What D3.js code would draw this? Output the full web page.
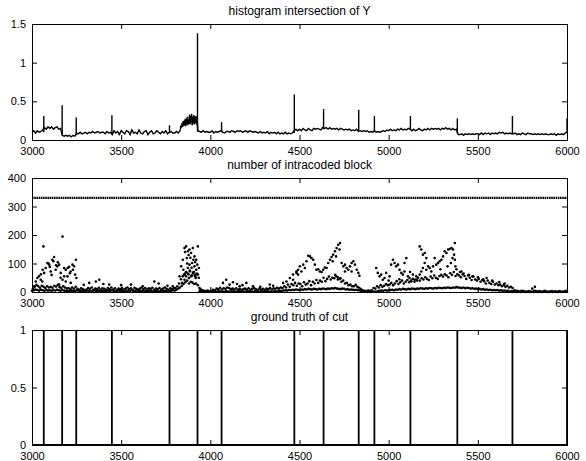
<!DOCTYPE html>
<html lang="en">
<head>
<meta charset="utf-8">
<style>
body { margin: 0; background: #fff; }
text { font-family: "Liberation Sans", Arial, Helvetica, sans-serif; fill: #000; }
</style>
</head>
<body>
<div id="chart"></div>
<script src="https://d3js.org/d3.v7.min.js"></script>
<script>
var width = 586, height = 461;
var frameStart = 3000, frameEnd = 6000, frameStep = 10;

// histogram intersection of Y, one value every 10 frames from 3000
var histY = [
  0.10,0.12,0.09,0.12,0.10,0.11,0.13,0.16,0.14,0.17,
  0.15,0.17,0.14,0.16,0.17,0.14,0.15,0.06,0.05,0.06,
  0.05,0.06,0.04,0.06,0.05,0.09,0.08,0.10,0.08,0.09,
  0.10,0.08,0.10,0.09,0.11,0.09,0.10,0.11,0.09,0.10,
  0.10,0.08,0.11,0.09,0.10,0.07,0.12,0.09,0.11,0.07,
  0.12,0.10,0.08,0.12,0.11,0.07,0.13,0.09,0.10,0.08,
  0.13,0.09,0.08,0.11,0.12,0.07,0.10,0.12,0.08,0.09,
  0.12,0.10,0.08,0.11,0.09,0.12,0.08,0.10,0.11,0.09,
  0.09,0.11,0.09,0.12,0.18,0.21,0.20,0.25,0.23,0.29,
  0.22,0.30,0.25,0.12,0.11,0.10,0.12,0.10,0.11,0.10,
  0.10,0.12,0.09,0.11,0.10,0.11,0.12,0.10,0.09,0.11,
  0.11,0.10,0.12,0.11,0.10,0.12,0.11,0.12,0.10,0.11,
  0.12,0.10,0.12,0.11,0.10,0.11,0.10,0.09,0.11,0.09,
  0.10,0.09,0.11,0.08,0.10,0.09,0.10,0.08,0.10,0.08,
  0.09,0.08,0.10,0.08,0.09,0.08,0.09,0.12,0.14,0.12,
  0.14,0.12,0.15,0.13,0.12,0.15,0.13,0.12,0.15,0.14,
  0.15,0.14,0.13,0.16,0.15,0.16,0.14,0.16,0.14,0.15,
  0.14,0.15,0.13,0.15,0.14,0.13,0.14,0.13,0.14,0.12,
  0.13,0.12,0.14,0.11,0.12,0.11,0.12,0.11,0.12,0.10,
  0.11,0.10,0.12,0.10,0.11,0.10,0.11,0.12,0.11,0.13,
  0.12,0.14,0.12,0.13,0.12,0.14,0.13,0.15,0.13,0.14,
  0.13,0.15,0.14,0.12,0.14,0.12,0.13,0.15,0.13,0.12,
  0.14,0.13,0.15,0.13,0.15,0.14,0.15,0.14,0.15,0.13,
  0.15,0.14,0.16,0.14,0.15,0.13,0.15,0.13,0.14,0.07,
  0.07,0.08,0.06,0.08,0.07,0.08,0.07,0.08,0.07,0.08,
  0.08,0.07,0.09,0.07,0.09,0.08,0.09,0.07,0.09,0.08,
  0.09,0.08,0.10,0.09,0.10,0.08,0.09,0.08,0.09,0.08,
  0.08,0.09,0.07,0.08,0.07,0.09,0.08,0.07,0.09,0.08,
  0.08,0.07,0.08,0.07,0.08,0.07,0.08,0.07,0.08,0.07,
  0.07,0.08,0.07,0.08,0.06,0.08,0.07,0.08,0.07,0.09,
  0.10
];

// noisy stretch before the cut at 3928 [frame, value]
var histBurst = [
  [3832,0.14],[3835,0.19],[3838,0.16],[3841,0.22],[3844,0.17],[3847,0.24],
  [3850,0.18],[3853,0.25],[3856,0.19],[3859,0.27],[3862,0.18],[3865,0.28],
  [3868,0.20],[3871,0.30],[3874,0.19],[3877,0.27],[3880,0.21],[3883,0.33],
  [3886,0.20],[3889,0.31],[3892,0.22],[3895,0.34],[3898,0.19],[3901,0.30],
  [3904,0.21],[3907,0.32],[3910,0.20],[3913,0.29],[3916,0.22],[3919,0.31],
  [3922,0.20],[3925,0.30]
];

// single-frame peaks [frame, base, peak]
var histSpikes = [
  [3066,0.10,0.31],[3169,0.06,0.45],[3248,0.06,0.29],[3448,0.09,0.32],
  [3771,0.09,0.19],[3928,0.11,1.38],[4063,0.10,0.23],[4471,0.09,0.59],
  [4635,0.14,0.40],[4832,0.12,0.39],[4920,0.10,0.31],[5122,0.13,0.31],
  [5385,0.08,0.28],[5694,0.08,0.31],[6000,0.09,0.28]
];

// number of intracoded blocks: dense low band, every 10 frames from 3000
var intraLow = [
  4,6,9,7,5,8,6,4,7,5,  6,4,7,5,8,6,4,7,5,3,  4,3,5,4,3,6,4,3,5,4,
  3,5,4,2,4,6,3,4,5,3,  4,2,5,3,4,6,3,2,4,5,  3,4,2,5,3,4,6,3,4,2,
  4,3,5,2,4,3,5,4,2,3,  4,2,3,5,3,4,2,3,4,6,  5,8,12,16,22,28,34,40,30,36,
  33,28,30,24,3,1,0,1,2,1,  1,2,0,1,2,3,1,2,1,3,  2,1,3,2,1,2,3,1,2,1,
  2,3,1,2,1,3,2,1,2,3,  1,2,3,1,2,1,3,2,4,3,  4,5,6,5,7,6,8,7,9,8,
  7,9,8,10,9,11,10,9,11,10,  9,11,10,12,11,10,12,11,13,12,  14,12,11,10,12,11,9,10,8,9,
  8,7,8,6,5,3,2,1,0,1,  0,1,2,1,3,4,5,4,6,5,  6,7,8,6,9,8,10,9,11,10,
  9,11,10,12,11,10,12,11,13,12,  11,13,12,14,13,12,14,13,15,14,  13,15,14,16,15,14,16,15,17,16,
  15,14,16,13,15,14,12,13,11,12,  10,11,9,10,8,9,7,8,6,7,  6,7,5,6,4,5,3,4,2,3,
  2,1,0,1,0,2,1,0,1,0,  1,0,2,1,0,1,0,2,1,0,  0,1,0,2,1,0,1,0,1,2,
  1
];

// second band, every 10 frames from 3005
var intraMid = [
  12,18,25,20,15,22,18,14,20,16,  18,15,22,19,25,17,14,20,16,12,  14,10,16,12,18,11,8,13,10,7,
  9,14,11,16,8,12,10,15,9,13,  11,8,14,10,16,9,13,7,12,10,  14,9,12,16,10,13,8,15,11,9,
  12,16,10,14,9,13,11,15,8,12,  10,14,9,12,16,11,8,13,10,15,  14,20,30,45,55,62,70,65,75,58,
  68,55,62,50,10,6,4,3,5,2,  4,8,6,12,10,15,9,13,11,16,  14,10,12,9,13,8,11,7,10,12,
  9,13,8,11,14,10,7,12,9,11,  8,12,10,14,9,13,11,15,12,16,  14,20,16,26,18,28,24,32,22,30,
  28,20,34,26,30,38,24,36,30,42,  32,40,36,50,38,46,54,44,50,48,  56,44,46,36,40,30,32,24,26,20,
  20,25,18,15,10,6,4,3,5,4,  6,14,12,20,16,24,18,22,28,24,  26,32,24,30,38,28,34,40,30,36,
  42,34,40,46,36,44,50,40,48,44,  52,46,42,54,48,58,50,46,56,60,  54,62,58,52,66,60,70,56,62,58,
  52,62,56,46,58,50,42,54,44,40,  46,36,42,38,30,40,32,28,36,26,  30,24,26,20,24,18,22,16,18,14,
  6,4,3,2,4,3,2,1,3,2,  12,4,3,2,3,1,2,4,2,1,  2,3,1,2,1,3,2,1,2,4
];

// scattered higher frames [frame, value]
var intraScatter = [
  [3011,20],[3021,37],[3030,49],[3039,55],[3049,43],[3050,62],[3058,37],[3060,78],[3064,160],
  [3068,67],[3077,84],[3086,102],[3092,100],[3096,96],[3100,88],[3105,72],[3110,60],[3114,113],
  [3120,108],[3124,123],[3133,78],[3135,94],[3142,90],[3145,104],[3152,96],[3152,26],[3160,50],
  [3161,67],[3171,195],[3171,43],[3180,84],[3180,55],[3189,78],[3189,37],[3199,55],[3200,84],
  [3208,88],[3212,66],[3217,72],[3217,32],[3227,96],[3230,78],[3236,90],[3242,61],[3246,113],[3249,49],
  [3290,25],[3321,32],[3358,37],[3377,43],[3400,28],[3433,26],[3500,24],[3555,26],[3621,20],
  [3686,37],[3710,30],[3760,22],
  [3789,20],[3827,55],[3836,90],[3842,32],[3846,113],[3849,78],[3852,60],[3855,154],[3855,43],
  [3858,140],[3861,67],[3864,160],[3864,55],[3868,119],[3870,100],[3874,143],[3874,84],[3877,62],
  [3878,130],[3880,49],[3883,149],[3883,96],[3886,73],[3888,120],[3892,137],[3892,55],[3895,85],
  [3896,58],[3898,102],[3902,154],[3902,67],[3905,113],[3908,70],[3911,125],[3911,90],[3912,60],
  [3915,105],[3918,49],[3921,113],[3921,78],[3924,65],[3927,96],[3930,160],[3930,61],[3936,84],[3939,14],
  [4071,32],[4089,43],[4108,26],[4127,34],[4150,28],[4164,20],[4180,24],[4202,32],[4239,20],
  [4280,18],[4333,26],[4352,22],[4408,32],[4427,37],[4446,49],[4464,61],[4483,72],[4492,78],
  [4464,43],[4483,67],[4492,61],[4502,90],[4511,72],[4521,96],[4530,84],[4539,108],[4549,127],
  [4558,125],[4567,119],[4577,113],[4586,96],[4595,78],[4605,80],[4614,72],[4624,70],[4633,78],
  [4642,86],[4652,84],[4661,102],[4671,113],[4680,123],[4686,108],[4689,131],[4699,143],[4700,60],
  [4705,125],[4708,154],[4715,52],[4717,166],[4724,149],[4727,172],[4730,48],[4736,102],[4746,90],
  [4755,96],[4755,72],[4764,84],[4774,78],[4783,90],[4792,102],[4792,72],[4802,108],[4811,96],
  [4821,78],[4830,67],[4836,57],
  [4930,84],[4939,67],[4949,55],[4958,61],[4967,43],[4977,49],[4986,67],[5000,40],[5005,55],
  [5014,96],[5024,113],[5033,102],[5042,90],[5052,96],[5060,45],[5061,78],[5071,67],[5080,61],
  [5089,72],[5089,102],[5099,119],[5108,55],[5117,49],[5120,70],[5127,37],[5136,61],[5146,43],
  [5155,55],[5160,40],[5174,160],[5174,61],[5183,149],[5183,72],[5192,131],[5192,84],[5202,137],
  [5202,102],[5211,119],[5211,78],[5221,90],[5230,84],[5239,72],[5249,90],[5258,119],[5267,96],
  [5277,102],[5286,108],[5290,80],[5296,113],[5305,125],[5314,143],[5324,137],[5330,90],[5333,149],
  [5342,151],[5349,102],[5352,154],[5358,119],[5361,149],[5367,131],[5371,172],[5371,113],[5374,90],
  [5380,80],[5400,70],[5408,72],[5420,65],[5450,60],[5470,55],[5500,52],[5530,45],[5549,49],
  [5580,40],[5620,35],[5650,30],[5820,18]
];
var intraFull = 330;

// ground truth cut frames
var cuts = [3066,3169,3248,3448,3771,3928,4063,4471,4635,4832,4920,5122,5385,5694,6000];

var xTicks = [3000,3500,4000,4500,5000,5500,6000];
var yTicksHist = [0,0.5,1,1.5];
var yTicksIntra = [0,100,200,300,400];
var yTicksCut = [0,0.5,1];
var titles = ["histogram intersection of Y", "number of intracoded block", "ground truth of cut"];

var svg = d3.select("#chart").append("svg")
  .attr("width", width)
  .attr("height", height);

var x = d3.scaleLinear().domain([frameStart, frameEnd]).range([32, 567]);

function panel(top, bottom, yMax, yTicks, title) {
  var y = d3.scaleLinear().domain([0, yMax]).range([bottom, top]);
  var g = svg.append("g");
  var fmt = function(d) { return String(d); };

  g.append("g").attr("transform", "translate(0," + bottom + ")")
    .call(d3.axisBottom(x).tickValues(xTicks).tickSize(-5).tickPadding(7).tickFormat(fmt));
  g.append("g").attr("transform", "translate(0," + top + ")")
    .call(d3.axisTop(x).tickValues(xTicks).tickSize(-5).tickFormat(""));
  g.append("g").attr("transform", "translate(32,0)")
    .call(d3.axisLeft(y).tickValues(yTicks).tickSize(-5).tickPadding(6).tickFormat(fmt));
  g.append("g").attr("transform", "translate(567,0)")
    .call(d3.axisRight(y).tickValues(yTicks).tickSize(-5).tickFormat(""));

  g.selectAll(".domain").remove();
  g.selectAll(".tick line").attr("stroke", "#000");
  g.selectAll(".tick text").attr("font-size", 11).attr("font-family", null);

  g.append("rect")
    .attr("x", 32.5).attr("y", top + 0.5)
    .attr("width", 535).attr("height", bottom - top)
    .attr("fill", "none").attr("stroke", "#000");

  svg.append("text")
    .attr("x", 299.5).attr("y", top - 9.5)
    .attr("text-anchor", "middle")
    .attr("font-size", 12)
    .text(title);
  return y;
}

// panel 1
var y1 = panel(24, 140, 1.5, yTicksHist, titles[0]);
var histPts = histY.map(function(v, i) { return [frameStart + i * frameStep, v]; })
  .concat(histBurst)
  .sort(function(a, b) { return a[0] - b[0]; });
var line1 = d3.line().x(function(d) { return x(d[0]); }).y(function(d) { return y1(d[1]); });
svg.append("path").datum(histPts)
  .attr("d", line1)
  .attr("fill", "none").attr("stroke", "#000").attr("stroke-width", 1.4);
svg.selectAll(".spike").data(histSpikes).enter().append("line")
  .attr("class", "spike")
  .attr("x1", function(d) { return x(d[0]); })
  .attr("x2", function(d) { return x(d[0]); })
  .attr("y1", function(d) { return y1(d[1]); })
  .attr("y2", function(d) { return y1(d[2]); })
  .attr("stroke", "#000").attr("stroke-width", 1.4);

// panel 2
var y2 = panel(178, 292, 400, yTicksIntra, titles[1]);
svg.append("path").datum([[frameStart, intraFull], [frameEnd, intraFull]])
  .attr("d", d3.line().x(function(d) { return x(d[0]); }).y(function(d) { return y2(d[1]); }))
  .attr("stroke", "#000").attr("stroke-width", 2.2)
  .attr("stroke-dasharray", "1.6 0.6");

var intraPts = intraLow.map(function(v, i) { return [frameStart + i * frameStep, v]; })
  .concat(intraMid.map(function(v, i) { return [frameStart + 5 + i * frameStep, v]; }))
  .concat(intraScatter);
svg.append("g").selectAll("circle").data(intraPts).enter().append("circle")
  .attr("cx", function(d) { return x(d[0]); })
  .attr("cy", function(d) { return y2(d[1]); })
  .attr("r", 1.3)
  .attr("fill", "#000");

// panel 3
var y3 = panel(330, 445, 1, yTicksCut, titles[2]);
svg.append("line")
  .attr("x1", x(frameStart)).attr("x2", x(frameEnd))
  .attr("y1", y3(0)).attr("y2", y3(0))
  .attr("stroke", "#000").attr("stroke-width", 2);
svg.selectAll(".cut").data(cuts).enter().append("line")
  .attr("class", "cut")
  .attr("x1", function(d) { return x(d); })
  .attr("x2", function(d) { return x(d); })
  .attr("y1", y3(0)).attr("y2", y3(1))
  .attr("stroke", "#000").attr("stroke-width", 1.8);
</script>
</body>
</html>
